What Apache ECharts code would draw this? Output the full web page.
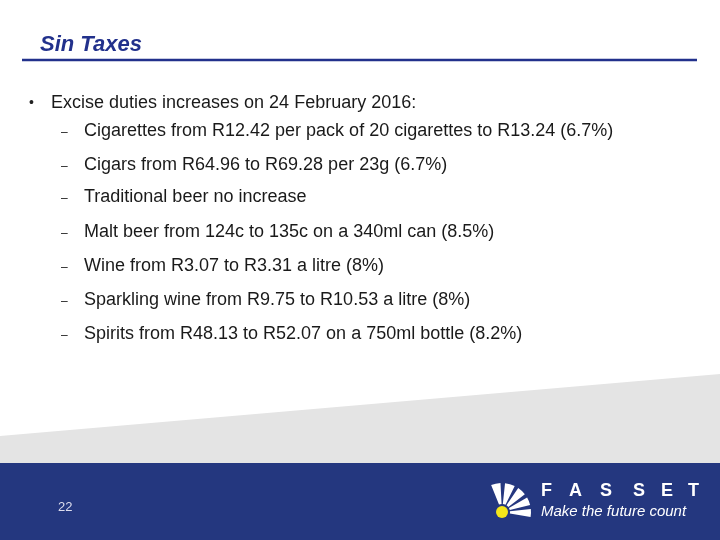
<!DOCTYPE html>
<html><head><meta charset="utf-8">
<script src="https://cdn.jsdelivr.net/npm/echarts@6/dist/echarts.min.js"></script>
<style>html,body{margin:0;padding:0;background:#fff}#c{width:720px;height:540px}</style>
</head><body><div id="c"></div>
<script>
const title = 'Sin Taxes';
const bulletText = 'Excise duties increases on 24 February 2016:';
const subItems = [
  'Cigarettes from R12.42 per pack of 20 cigarettes to R13.24 (6.7%)',
  'Cigars from R64.96 to R69.28 per 23g (6.7%)',
  'Traditional beer no increase',
  'Malt beer from 124c to 135c on a 340ml can (8.5%)',
  'Wine from R3.07 to R3.31 a litre (8%)',
  'Sparkling wine from R9.75 to R10.53 a litre (8%)',
  'Spirits from R48.13 to R52.07 on a 750ml bottle (8.2%)'
];
const subY = [131, 165, 197, 232, 266, 300, 334];
const pageNumber = '22';
const brandLetters = ['F','A','S','S','E','T'];
const brandX = [541, 569, 600, 633, 661, 688];
const tagline = 'Make the future count';

const font = '"Liberation Sans", Arial, sans-serif';
const g = [];
g.push({type:'polygon', shape:{points:[[0,436],[720,374],[720,463],[0,463]]}, style:{fill:'#e4e4e4'}});
g.push({type:'rect', shape:{x:0,y:463,width:720,height:77}, style:{fill:'#24377f'}});
g.push({type:'text', x:40, y:45, style:{text:title, font:'italic bold 22px '+font, fill:'#22318c', verticalAlign:'middle'}});
g.push({type:'line', shape:{x1:22,y1:60,x2:697,y2:60}, style:{stroke:'#22318c', lineWidth:2.5}});
g.push({type:'text', x:29, y:103, style:{text:'•', font:'14px '+font, fill:'#222', verticalAlign:'middle'}});
g.push({type:'text', x:51, y:103, style:{text:bulletText, font:'18px '+font, fill:'#1a1a1a', verticalAlign:'middle'}});
subItems.forEach((t,i)=>{
  g.push({type:'text', x:61, y:subY[i]+2, style:{text:'–', font:'12px '+font, fill:'#222', verticalAlign:'middle'}});
  g.push({type:'text', x:84, y:subY[i], style:{text:t, font:'18px '+font, fill:'#1a1a1a', verticalAlign:'middle'}});
});
g.push({type:'text', x:58, y:507, style:{text:pageNumber, font:'13px '+font, fill:'#dde', verticalAlign:'middle'}});
brandLetters.forEach((l,i)=>{
  g.push({type:'text', x:brandX[i], y:491, style:{text:l, font:'bold 18px '+font, fill:'#fff', verticalAlign:'middle'}});
});
g.push({type:'text', x:541, y:512, style:{text:tagline, font:'italic 15px '+font, fill:'#fff', verticalAlign:'middle'}});
const cx=502, cy=512;
const rays=[[-112,-93],[-84,-64],[-56,-38],[-30,-14],[-6,10]];
rays.forEach(r=>{
  g.push({type:'sector', shape:{cx:cx,cy:cy,r0:8,r:29,startAngle:r[0]*Math.PI/180,endAngle:r[1]*Math.PI/180}, style:{fill:'#fff'}});
});
g.push({type:'circle', shape:{cx:cx,cy:cy,r:6}, style:{fill:'#f4e61a'}});
const chart = echarts.init(document.getElementById('c'));
chart.setOption({animation:false, graphic:g});
</script></body></html>
